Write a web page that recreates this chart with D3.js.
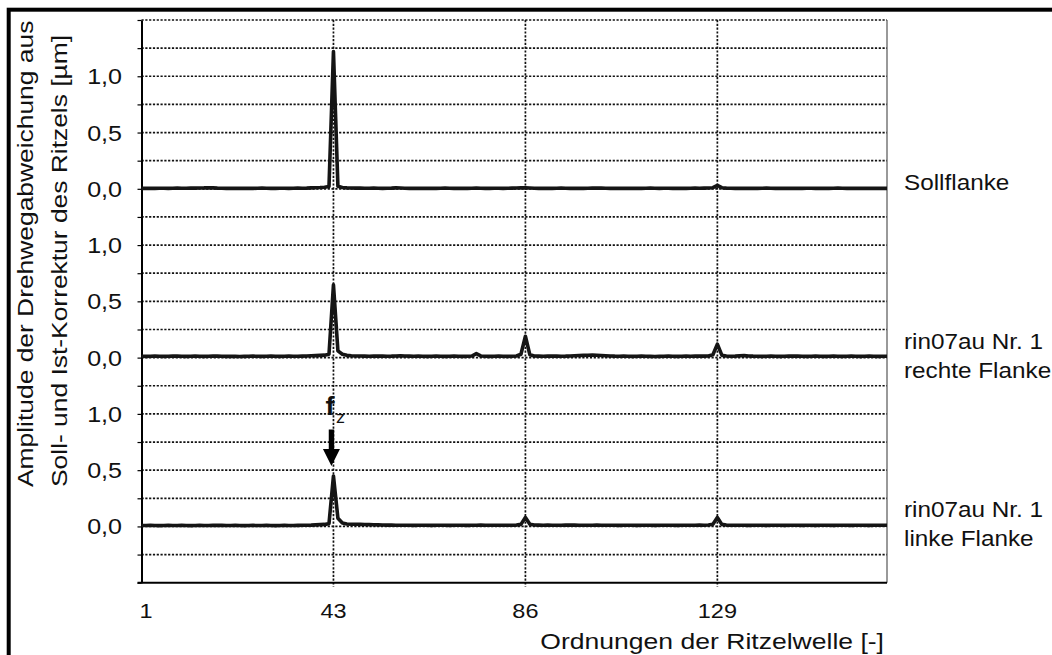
<!DOCTYPE html>
<html>
<head>
<meta charset="utf-8">
<script src="https://cdn.jsdelivr.net/npm/d3@7"></script>
<style>
  html, body { margin: 0; padding: 0; background: #fff; overflow: hidden; }
  svg { display: block; font-family: "Liberation Sans", Arial, sans-serif; }
</style>
</head>
<body>
<svg id="chart" width="1052" height="655"></svg>
<script>
// ---- data: order spectra of the transmission error amplitude [µm], orders 0..167 ----
const orders = d3.range(0, 168);

const sollflanke = [
  .004,.004,.005,.004,.005,.005,.004,.005,.006,.005,
  .005,.006,.006,.007,.008,.010,.008,.006,.005,.004,
  .004,.005,.004,.005,.004,.004,.005,.006,.005,.004,
  .004,.005,.005,.004,.005,.006,.005,.006,.008,.009,
  .011,.014,.020,1.220,.022,.012,.008,.007,.006,.006,
  .005,.005,.006,.005,.004,.005,.006,.008,.007,.005,
  .004,.004,.005,.004,.005,.004,.004,.005,.006,.005,
  .004,.005,.004,.004,.005,.006,.005,.004,.004,.005,
  .005,.004,.005,.006,.007,.008,.009,.007,.005,.004,
  .004,.005,.004,.005,.006,.005,.004,.004,.005,.004,
  .005,.006,.007,.006,.005,.004,.004,.005,.004,.004,
  .005,.004,.004,.005,.006,.005,.004,.005,.005,.004,
  .004,.005,.004,.005,.006,.005,.006,.007,.010,.030,
  .010,.006,.005,.004,.005,.004,.004,.005,.004,.005,
  .006,.005,.004,.004,.005,.004,.005,.004,.004,.005,
  .005,.004,.005,.004,.004,.005,.006,.005,.004,.004,
  .005,.004,.004,.005,.004,.005,.004,.004
];

const rechteFlanke = [
  .012,.011,.012,.013,.012,.011,.012,.013,.014,.012,
  .011,.012,.013,.012,.011,.012,.014,.013,.012,.011,
  .012,.011,.010,.011,.012,.013,.012,.011,.012,.013,
  .012,.011,.012,.013,.012,.012,.013,.014,.016,.018,
  .020,.022,.030,.646,.060,.030,.020,.016,.015,.014,
  .013,.012,.013,.014,.013,.012,.013,.015,.016,.014,
  .013,.012,.013,.012,.011,.012,.013,.012,.011,.012,
  .013,.012,.011,.012,.014,.035,.015,.012,.011,.012,
  .013,.012,.011,.012,.014,.030,.190,.025,.014,.013,
  .012,.013,.014,.013,.012,.013,.015,.017,.019,.020,
  .021,.022,.021,.019,.017,.015,.013,.012,.013,.012,
  .011,.012,.013,.012,.011,.010,.011,.012,.013,.012,
  .011,.012,.013,.012,.013,.014,.013,.015,.025,.120,
  .022,.014,.012,.013,.016,.018,.015,.013,.012,.011,
  .012,.013,.012,.011,.012,.013,.014,.013,.012,.011,
  .012,.013,.012,.011,.012,.013,.012,.011,.012,.013,
  .012,.011,.012,.013,.012,.011,.012,.012
];

const linkeFlanke = [
  .008,.008,.009,.008,.007,.008,.009,.008,.008,.009,
  .008,.007,.008,.009,.008,.008,.009,.010,.009,.008,
  .008,.009,.008,.007,.008,.009,.008,.008,.009,.008,
  .007,.008,.009,.008,.008,.009,.010,.011,.012,.014,
  .016,.018,.025,.448,.072,.030,.022,.020,.019,.018,
  .017,.016,.015,.014,.013,.012,.012,.011,.011,.010,
  .010,.009,.010,.011,.010,.009,.010,.011,.010,.009,
  .010,.011,.010,.009,.010,.011,.012,.011,.010,.010,
  .011,.010,.010,.011,.012,.018,.080,.020,.013,.012,
  .011,.012,.011,.010,.011,.012,.013,.012,.011,.010,
  .010,.011,.012,.011,.010,.011,.010,.009,.010,.011,
  .010,.009,.010,.011,.010,.009,.010,.010,.011,.010,
  .009,.010,.011,.010,.011,.012,.011,.013,.020,.080,
  .018,.012,.011,.010,.011,.010,.009,.010,.011,.010,
  .009,.010,.011,.010,.009,.010,.011,.010,.009,.010,
  .010,.009,.010,.011,.010,.009,.010,.011,.010,.009,
  .010,.011,.010,.009,.010,.010,.011,.010
];

const seriesLabels = [
  ["Sollflanke"],
  ["rin07au Nr. 1", "rechte Flanke"],
  ["rin07au Nr. 1", "linke Flanke"]
];
const xTickValues = [1, 43, 86, 129];
const xGridValues = [43, 86, 129];
const yPanelTicks = [1.0, 0.5, 0.0];
const xTitle = "Ordnungen der Ritzelwelle [-]";
const yTitle = ["Amplitude der Drehwegabweichung aus", "Soll- und Ist-Korrektur des Ritzels [µm]"];
const markerOrder = 43;
const markerMain = "f";
const markerSub = "z";

// ---- layout ----
const svg = d3.select("#chart");
const plot = { left: 141.5, right: 887, top: 20, bottom: 582.7 };
// each trace is stacked on the shared vertical axis with its own zero line
const panelBase = [3.0, 1.5, 0.0];
const series = [sollflanke, rechteFlanke, linkeFlanke];

const x = d3.scaleLinear().domain([0, 167]).range([plot.left, plot.right]);
const y = d3.scaleLinear().domain([-0.5, 4.5]).range([plot.bottom, plot.top]);

const de = d3.formatLocale({ decimal: ",", thousands: ".", grouping: [3], currency: ["", " €"] });
const fmt = de.format(".1f");

// outer frame
svg.append("rect")
  .attr("x", 8.7).attr("y", 9.7)
  .attr("width", 1200).attr("height", 800)
  .attr("fill", "none").attr("stroke", "#000").attr("stroke-width", 4);

// horizontal dotted grid, every 0.25
const gridY = d3.range(-0.25, 4.5001, 0.25);
svg.append("g").selectAll("line").data(gridY).join("line")
  .attr("x1", plot.left).attr("x2", plot.right)
  .attr("y1", d => y(d)).attr("y2", d => y(d))
  .attr("stroke", "#111").attr("stroke-width", 1.7)
  .attr("stroke-dasharray", "2.2,1.6");

// vertical dotted grid
svg.append("g").selectAll("line").data(xGridValues).join("line")
  .attr("x1", d => x(d)).attr("x2", d => x(d))
  .attr("y1", plot.top).attr("y2", plot.bottom + 4)
  .attr("stroke", "#111").attr("stroke-width", 1.7)
  .attr("stroke-dasharray", "2.2,1.6");

// right edge of the plot area
svg.append("line")
  .attr("x1", plot.right).attr("x2", plot.right)
  .attr("y1", plot.top).attr("y2", plot.bottom)
  .attr("stroke", "#555").attr("stroke-width", 1.2);

// y axis (ticks only; labels per trace drawn below)
const yAxis = svg.append("g")
  .attr("transform", `translate(${plot.left},0)`)
  .call(d3.axisLeft(y).tickValues(d3.range(-0.5, 4.5001, 0.25)).tickSize(4).tickSizeOuter(0).tickFormat(() => ""));
yAxis.select(".domain").attr("stroke", "#000").attr("stroke-width", 2);
yAxis.selectAll(".tick line").attr("stroke", "#000").attr("stroke-width", 1.2);

// x axis line
const xAxis = svg.append("g")
  .attr("transform", `translate(0,${plot.bottom})`)
  .call(d3.axisBottom(x).tickValues(xGridValues).tickSize(0).tickSizeOuter(0).tickFormat(() => ""));
xAxis.select(".domain").attr("stroke", "#000").attr("stroke-width", 2)
  .attr("d", `M${plot.left - 4},0H${plot.right}`);

// text helper: horizontally widened type
function label(g, txt, tx, ty, opts) {
  const o = Object.assign({ size: 21, sx: 1.18, anchor: "start", rot: 0, weight: "normal" }, opts || {});
  return g.append("text")
    .attr("transform", `translate(${tx},${ty})` + (o.rot ? ` rotate(${o.rot})` : "") + ` scale(${o.sx},1)`)
    .attr("text-anchor", o.anchor)
    .attr("font-size", o.size)
    .attr("font-weight", o.weight)
    .attr("fill", "#111")
    .text(txt);
}

// y tick labels for each stacked trace
const yLab = svg.append("g");
panelBase.forEach(base => {
  yPanelTicks.forEach(v => {
    label(yLab, fmt(v), 122, y(base + v) + 8, { size: 22, sx: 1.14, anchor: "end" });
  });
});

// x tick labels
const xLab = svg.append("g");
xTickValues.forEach(v => label(xLab, String(v), x(v), 617.5, { size: 21, sx: 1.12, anchor: "middle" }));

// axis titles
label(svg, xTitle, 884, 649, { size: 22.5, sx: 1.18, anchor: "end" });
label(svg, yTitle[0], 33, 487, { size: 22, sx: 1.2, anchor: "start", rot: -90 });
label(svg, yTitle[1], 67, 487, { size: 22, sx: 1.2, anchor: "start", rot: -90 });

// traces
const line = d3.line().x((d, i) => x(orders[i]));
series.forEach((vals, k) => {
  svg.append("path")
    .datum(vals)
    .attr("fill", "none")
    .attr("stroke", "#151515")
    .attr("stroke-width", 3.6)
    .attr("stroke-linejoin", "round")
    .attr("d", line.y(d => y(panelBase[k] + d)));
});

// trace names on the right
const rLab = svg.append("g");
seriesLabels.forEach((lines, k) => {
  const y0 = y(panelBase[k]);
  if (lines.length === 1) {
    label(rLab, lines[0], 904, y0 + 1.5, { size: 22.5, sx: 1.08 });
  } else {
    label(rLab, lines[0], 904, y0 - 9, { size: 22.5, sx: 1.08 });
    label(rLab, lines[1], 904, y0 + 20, { size: 22.5, sx: 1.08 });
  }
});

// tooth-mesh order marker on the lower trace
const mx = x(markerOrder) - 2;
const tipY = y(panelBase[2] + 0.537);
const ann = svg.append("g");
ann.append("path")
  .attr("d", `M${mx - 2.7},${tipY - 36.5}H${mx + 2.7}V${tipY - 17}H${mx + 8.5}L${mx},${tipY}L${mx - 8.5},${tipY - 17}H${mx - 2.7}Z`)
  .attr("fill", "#000");
label(ann, markerMain, mx - 6, tipY - 51, { size: 26, sx: 1.05, weight: "bold" });
label(ann, markerSub, mx + 4.5, tipY - 43, { size: 17, sx: 1.05 });
</script>
</body>
</html>
